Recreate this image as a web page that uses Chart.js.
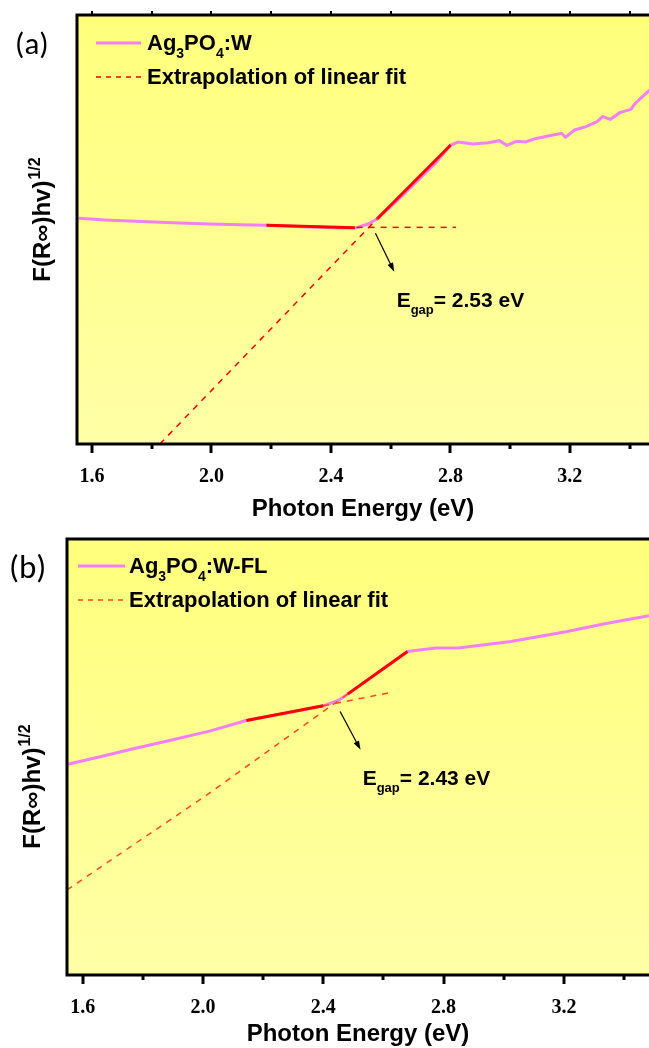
<!DOCTYPE html>
<html>
<head>
<meta charset="utf-8">
<script src="https://cdn.jsdelivr.net/npm/chart.js@4.4.1/dist/chart.umd.min.js"></script>
<style>
  html, body { margin: 0; padding: 0; background: #fff; overflow: hidden; }
  body { width: 649px; height: 1048px; position: relative; }
  .panel { position: absolute; left: 0; width: 649px; }
  #panelA { top: 0; height: 528px; }
  #panelB { top: 520px; height: 533px; }
</style>
</head>
<body>
<div class="panel" id="panelA"><canvas id="chartA"></canvas></div>
<div class="panel" id="panelB"><canvas id="chartB"></canvas></div>
<script>
const xTickValues = [1.6, 1.8, 2.0, 2.2, 2.4, 2.6, 2.8, 3.0, 3.2, 3.4];
const xTickLabels = ['1.6', '', '2.0', '', '2.4', '', '2.8', '', '3.2', ''];

// (a) Ag3PO4:W
const energyA = [1.555, 1.643, 1.744, 1.869, 1.995, 2.096, 2.184, 2.310, 2.436, 2.486, 2.524, 2.555,
  2.624, 2.750, 2.801, 2.826, 2.876, 2.927, 2.964, 2.989, 3.021, 3.052, 3.084, 3.128, 3.172, 3.185,
  3.216, 3.254, 3.291, 3.310, 3.336, 3.367, 3.405, 3.417, 3.455, 3.474];
const responseA = [5.260, 5.221, 5.190, 5.159, 5.128, 5.113, 5.097, 5.066, 5.035, 5.043, 5.128, 5.252,
  5.688, 6.543, 6.970, 7.040, 6.993, 7.024, 7.071, 6.962, 7.055, 7.040, 7.117, 7.180, 7.242, 7.149,
  7.320, 7.397, 7.514, 7.630, 7.568, 7.723, 7.801, 7.926, 8.174, 8.291];
const fitLowEnergyA = [2.184, 2.480];
const fitLowResponseA = [5.097, 5.038];
const fitHighEnergyA = [2.555, 2.801];
const fitHighResponseA = [5.252, 6.970];
const extLowEnergyA = [2.486, 2.819];
const extLowResponseA = [5.050, 5.050];
const extHighEnergyA = [1.827, 2.555];
const extHighResponseA = [0, 5.252];
const gapA = '2.53';

// (b) Ag3PO4:W-FL
const energyB = [1.551, 1.651, 1.776, 1.900, 2.025, 2.144, 2.275, 2.400, 2.450, 2.481, 2.587, 2.680,
  2.774, 2.849, 3.024, 3.211, 3.336, 3.483];
const responseB = [4.835, 4.996, 5.202, 5.394, 5.600, 5.837, 6.006, 6.174, 6.296, 6.442, 6.962, 7.421,
  7.498, 7.498, 7.650, 7.880, 8.056, 8.240];
const fitLowEnergyB = [2.144, 2.400];
const fitLowResponseB = [5.837, 6.174];
const fitHighEnergyB = [2.481, 2.680];
const fitHighResponseB = [6.442, 7.421];
const extLowEnergyB = [2.400, 2.624];
const extLowResponseB = [6.174, 6.479];
const extHighEnergyB = [1.548, 2.013, 2.481];
const extHighResponseB = [1.95, 4.131, 6.442];
const gapB = '2.43';

const PINK = '#f47ff4';
const RED = '#ff0000';
const SANS = 'Arial, "Liberation Sans", sans-serif';
const SERIF = '"Times New Roman", "Liberation Serif", serif';

function pts(xs, ys) {
  return xs.map((x, i) => ({ x, y: ys[i] }));
}

// draws text pieces left to right, subscripts / superscripts shifted
function drawRich(ctx, x, y, parts, size) {
  parts.forEach(p => {
    const s = p.small ? Math.round(size * 0.64) : size;
    ctx.font = 'bold ' + s + 'px ' + SANS;
    const dy = p.sub ? size * 0.36 : 0;
    ctx.fillText(p.t, x, y + dy);
    x += ctx.measureText(p.t).width;
  });
  return x;
}

function arrow(ctx, x1, y1, x2, y2) {
  const a = Math.atan2(y2 - y1, x2 - x1);
  ctx.beginPath();
  ctx.moveTo(x1, y1);
  ctx.lineTo(x2 - 7 * Math.cos(a), y2 - 7 * Math.sin(a));
  ctx.lineWidth = 1.2;
  ctx.strokeStyle = '#000';
  ctx.stroke();
  ctx.beginPath();
  ctx.moveTo(x2, y2);
  ctx.lineTo(x2 - 9 * Math.cos(a) + 3 * Math.sin(a), y2 - 9 * Math.sin(a) - 3 * Math.cos(a));
  ctx.lineTo(x2 - 9 * Math.cos(a) - 3 * Math.sin(a), y2 - 9 * Math.sin(a) + 3 * Math.cos(a));
  ctx.closePath();
  ctx.fillStyle = '#000';
  ctx.fill();
}

const panelDecor = {
  id: 'panelDecor',
  beforeDatasetsDraw(chart) {
    const { ctx, chartArea: a } = chart;
    const g = ctx.createLinearGradient(0, a.top, 0, a.bottom);
    g.addColorStop(0, '#ffff7c');
    g.addColorStop(1, '#ffffa6');
    ctx.save();
    ctx.fillStyle = g;
    ctx.fillRect(a.left, a.top, a.right - a.left, a.bottom - a.top);
    ctx.restore();
  },
  afterDatasetsDraw(chart, args, o) {
    const { ctx, chartArea: a, scales: { x, y } } = chart;
    ctx.save();

    // frame (right side is outside the picture)
    ctx.strokeStyle = '#000';
    ctx.lineWidth = 3;
    ctx.beginPath();
    ctx.moveTo(a.right + 2, a.top);
    ctx.lineTo(a.left, a.top);
    ctx.lineTo(a.left, a.bottom);
    ctx.lineTo(a.right + 2, a.bottom);
    ctx.stroke();

    // tick marks
    xTickValues.forEach((v, i) => {
      const px = Math.round(x.getPixelForValue(v));
      const len = xTickLabels[i] ? 9 : 5;
      ctx.lineWidth = 3;
      ctx.beginPath();
      ctx.moveTo(px, a.bottom);
      ctx.lineTo(px, a.bottom + len);
      ctx.stroke();
      if (o.topTicks) {
        ctx.lineWidth = 2;
        ctx.beginPath();
        ctx.moveTo(px, a.top);
        ctx.lineTo(px, a.top - 4);
        ctx.stroke();
      }
    });

    // legend
    const lx = a.left + o.legendX;
    ctx.lineWidth = 3;
    ctx.strokeStyle = PINK;
    ctx.beginPath();
    ctx.moveTo(lx, a.top + o.legendY);
    ctx.lineTo(lx + o.legendLen, a.top + o.legendY);
    ctx.stroke();
    ctx.lineWidth = 1.5;
    ctx.strokeStyle = o.dashColor;
    ctx.setLineDash([5, 5]);
    ctx.beginPath();
    ctx.moveTo(lx, a.top + o.legendY + 34);
    ctx.lineTo(lx + o.legendLen, a.top + o.legendY + 34);
    ctx.stroke();
    ctx.setLineDash([]);
    ctx.fillStyle = '#000';
    ctx.textBaseline = 'alphabetic';
    ctx.textAlign = 'left';
    drawRich(ctx, lx + o.legendLen + o.legendGap, a.top + o.legendY + 7, o.nameParts, 22);
    drawRich(ctx, lx + o.legendLen + o.legendGap, a.top + o.legendY + 41, [{ t: 'Extrapolation of linear fit' }], 22);

    // arrow and gap label
    arrow(ctx, x.getPixelForValue(o.arrow[0]), y.getPixelForValue(o.arrow[1]),
      x.getPixelForValue(o.arrow[2]), y.getPixelForValue(o.arrow[3]));
    ctx.fillStyle = '#000';
    drawRich(ctx, x.getPixelForValue(o.label[0]), y.getPixelForValue(o.label[1]),
      [{ t: 'E' }, { t: 'gap', small: true, sub: true }, { t: '= ' + o.gap + ' eV' }], 21);

    // y title with superscript
    ctx.save();
    ctx.font = 'bold 24px ' + SANS;
    const wMain = ctx.measureText('F(R\u221E)hv)').width;
    ctx.font = 'bold 16px ' + SANS;
    const wSup = ctx.measureText('1/2').width;
    ctx.translate(a.left - 27, a.top + o.yTitleCenter + (wMain + wSup) / 2);
    ctx.rotate(-Math.PI / 2);
    ctx.font = 'bold 24px ' + SANS;
    ctx.fillText('F(R\u221E)hv)', 0, 0);
    ctx.font = 'bold 16px ' + SANS;
    ctx.fillText('1/2', wMain + 1, -10);
    ctx.restore();

    // panel letter
    ctx.font = o.letterSize + 'px Calibri, Carlito, "Open Sans", sans-serif';
    ctx.fillStyle = '#000';
    ctx.fillText(o.letter, o.letterX, o.letterY);

    ctx.restore();
  }
};

function makePanel(id, p) {
  new Chart(document.getElementById(id), {
    type: 'line',
    data: {
      datasets: [
        { data: pts(p.energy, p.response), borderColor: PINK, borderWidth: 3, order: 3 },
        { data: pts(p.fitLowE, p.fitLowR), borderColor: RED, borderWidth: 3, order: 1 },
        { data: pts(p.fitHighE, p.fitHighR), borderColor: RED, borderWidth: 3, order: 1 },
        { data: pts(p.extLowE, p.extLowR), borderColor: p.decor.dashColor, borderWidth: 1.5, borderDash: [6, 6], order: 2 },
        { data: pts(p.extHighE, p.extHighR), borderColor: p.decor.dashColor, borderWidth: 1.5, borderDash: [6, 6], order: 2 },
      ],
    },
    options: {
      responsive: true,
      maintainAspectRatio: false,
      animation: false,
      layout: { padding: { top: p.top, left: 0, right: 0, bottom: 0 } },
      elements: { point: { radius: 0 }, line: { tension: 0 } },
      plugins: {
        legend: { display: false },
        tooltip: { enabled: false },
        panelDecor: p.decor,
      },
      scales: {
        x: {
          type: 'linear',
          min: p.xMin,
          max: p.xMax,
          afterBuildTicks: s => { s.ticks = xTickValues.map(v => ({ value: v })); },
          afterFit: s => { s.height = p.xAxisHeight; },
          grid: { display: false },
          border: { display: false },
          ticks: {
            autoSkip: false,
            maxRotation: 0,
            padding: 13,
            color: '#000',
            font: { family: SERIF, size: 20, weight: 'bold' },
            callback: (v, i) => xTickLabels[i],
          },
          title: {
            display: true,
            text: 'Photon Energy (eV)',
            color: '#000',
            font: { family: SANS, size: 24, weight: 'bold' },
            padding: { top: 0, bottom: 4 },
          },
        },
        y: {
          min: 0,
          max: 10,
          afterFit: s => { s.width = p.left; },
          ticks: { display: false },
          grid: { display: false },
          border: { display: false },
        },
      },
    },
    plugins: [panelDecor],
  });
}

makePanel('chartA', {
  energy: energyA, response: responseA,
  fitLowE: fitLowEnergyA, fitLowR: fitLowResponseA,
  fitHighE: fitHighEnergyA, fitHighR: fitHighResponseA,
  extLowE: extLowEnergyA, extLowR: extLowResponseA,
  extHighE: extHighEnergyA, extHighR: extHighResponseA,
  xMin: 1.5497, xMax: 3.465, top: 15, left: 77, xAxisHeight: 84,
  decor: {
    dashColor: RED, topTicks: true,
    legendX: 19, legendY: 28, legendLen: 45, legendGap: 6,
    nameParts: [{ t: 'Ag' }, { t: '3', small: true, sub: true }, { t: 'PO' }, { t: '4', small: true, sub: true }, { t: ':W' }],
    arrow: [2.549, 4.911, 2.612, 4.016],
    label: [2.620, 3.20],
    gap: gapA,
    yTitleCenter: 205,
    letter: '(a)', letterSize: 31, letterX: 15, letterY: 54,
  },
});

makePanel('chartB', {
  energy: energyB, response: responseB,
  fitLowE: fitLowEnergyB, fitLowR: fitLowResponseB,
  fitHighE: fitHighEnergyB, fitHighR: fitHighResponseB,
  extLowE: extLowEnergyB, extLowR: extLowResponseB,
  extHighE: extHighEnergyB, extHighR: extHighResponseB,
  xMin: 1.548, xMax: 3.483, top: 19, left: 67, xAxisHeight: 78,
  decor: {
    dashColor: '#ff4a1a', topTicks: false,
    legendX: 11, legendY: 27, legendLen: 47, legendGap: 4,
    nameParts: [{ t: 'Ag' }, { t: '3', small: true, sub: true }, { t: 'PO' }, { t: '4', small: true, sub: true }, { t: ':W-FL' }],
    arrow: [2.456, 6.043, 2.524, 5.164],
    label: [2.531, 4.361],
    gap: gapB,
    yTitleCenter: 248,
    letter: '(b)', letterSize: 33, letterX: 9, letterY: 58,
  },
});
</script>
</body>
</html>
